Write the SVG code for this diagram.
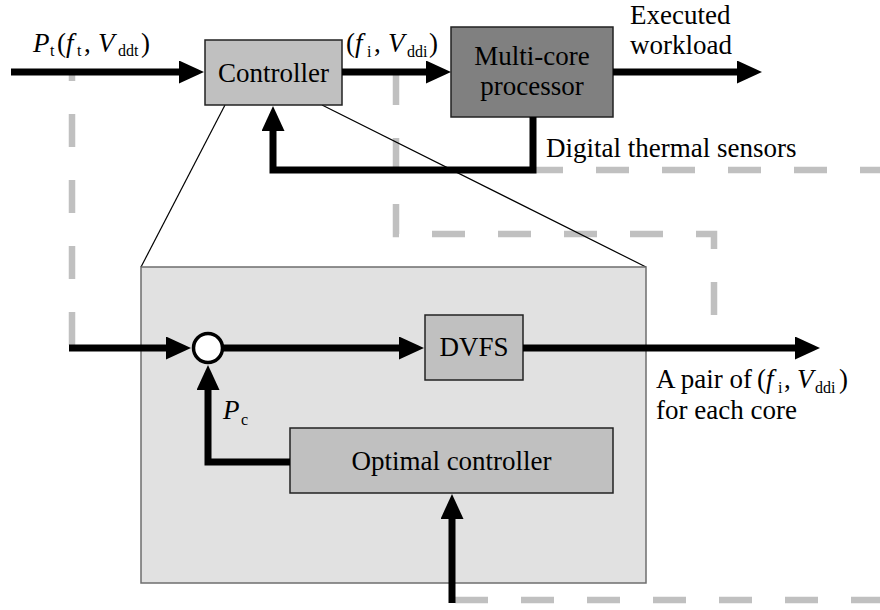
<svg xmlns="http://www.w3.org/2000/svg" width="880" height="610" viewBox="0 0 880 610" font-family="'Liberation Serif', 'Times New Roman', serif">
  <defs>
    <style>
      text, tspan { font-family: "Liberation Serif", "Times New Roman", serif; fill: #000; }
      .lbl { font-size: 27px; }
      .mid { text-anchor: middle; }
      .it { font-style: italic; }
      .sub { font-size: 16px; }
      .block { fill: #c0c0c0; stroke: #222; stroke-width: 1.5; }
      .dark { fill: #808080; stroke: #222; stroke-width: 1.5; }
      .outer { fill: #e1e1e1; stroke: #6e6e6e; stroke-width: 1.5; }
      .wire { fill: none; stroke: #000; stroke-width: 7; stroke-linejoin: miter; }
      .dash { fill: none; stroke: #c0c0c0; stroke-width: 6.5; stroke-dasharray: 33 33; stroke-linejoin: miter; }
      .zoom { fill: none; stroke: #000; stroke-width: 1.2; }
    </style>
    <marker id="head" markerUnits="userSpaceOnUse" markerWidth="26" markerHeight="24" refX="1" refY="11.5" orient="auto">
      <path d="M0,0 L25,11.5 L0,23 Z" fill="#000"/>
    </marker>
  </defs>

  <!-- grey dashed boundaries -->
  <g id="boundaries">
    <path class="dash" d="M72,72 V348" stroke-dashoffset="24"/>
    <path class="dash" d="M396,72 V234 H714 V348"/>
    <path class="dash" d="M530,170 H880"/>
    <path class="dash" d="M455,600 H880"/>
  </g>

  <!-- magnification lines from the controller to the detail view -->
  <g id="zoom-lines">
    <path class="zoom" d="M225,105 L141,267"/>
    <path class="zoom" d="M322,105 L646,267"/>
  </g>

  <!-- detail view of the controller -->
  <g id="detail">
    <rect class="outer" x="141" y="267" width="505" height="316"/>
  </g>

  <g id="controller">
    <rect class="block" x="205" y="40" width="137" height="65"/>
    <text class="lbl mid" x="273.5" y="82">Controller</text>
  </g>

  <g id="processor">
    <rect class="dark" x="451" y="27" width="162" height="90"/>
    <text class="lbl mid" x="532" y="65">Multi-core</text>
    <text class="lbl mid" x="532" y="95">processor</text>
  </g>

  <g id="sum">
    <circle cx="208" cy="348" r="14.5" fill="#fff" stroke="#000" stroke-width="3.5"/>
  </g>

  <g id="dvfs">
    <rect class="block" x="425" y="315" width="98" height="65"/>
    <text class="lbl mid" x="474" y="356">DVFS</text>
  </g>

  <g id="optimal">
    <rect class="block" x="290" y="428" width="323" height="65"/>
    <text class="lbl mid" x="451.5" y="470">Optimal controller</text>
  </g>

  <!-- signal connectors -->
  <g id="connectors">
    <path class="wire" d="M11,72 H180" marker-end="url(#head)"/>
    <path class="wire" d="M342,72 H427" marker-end="url(#head)"/>
    <path class="wire" d="M613,72 H738" marker-end="url(#head)"/>
    <path class="wire" d="M533,117 V170 H273 V130" marker-end="url(#head)"/>
    <path class="wire" d="M69,348 H167" marker-end="url(#head)"/>
    <path class="wire" d="M222,348 H400" marker-end="url(#head)"/>
    <path class="wire" d="M523,348 H796" marker-end="url(#head)"/>
    <path class="wire" d="M290,462 H208 V389" marker-end="url(#head)"/>
    <path class="wire" d="M452,603 V518" marker-end="url(#head)"/>
  </g>

  <!-- labels -->
  <g id="labels">
    <text class="lbl" y="52"><tspan class="it" x="33">P</tspan><tspan class="sub" x="50" y="56">t</tspan><tspan x="57" y="52">(</tspan><tspan class="it" x="66">f</tspan><tspan class="sub" x="77" y="56">t</tspan><tspan x="84" y="52">,</tspan><tspan class="it" x="98">V</tspan><tspan class="sub" x="118" y="56">ddt</tspan><tspan x="141" y="52">)</tspan></text>

    <text class="lbl" y="52"><tspan x="346">(</tspan><tspan class="it" x="355">f</tspan><tspan class="sub" x="367" y="57">i</tspan><tspan x="374" y="52">,</tspan><tspan class="it" x="388">V</tspan><tspan class="sub" x="407" y="57">ddi</tspan><tspan x="429" y="52">)</tspan></text>

    <text class="lbl" x="630" y="24">Executed</text>
    <text class="lbl" x="630" y="54">workload</text>

    <text class="lbl" x="546" y="157">Digital thermal sensors</text>

    <text class="lbl" y="388"><tspan x="656">A pair of</tspan><tspan x="757">(</tspan><tspan class="it" x="766">f</tspan><tspan class="sub" x="778" y="393">i</tspan><tspan x="784" y="388">,</tspan><tspan class="it" x="797">V</tspan><tspan class="sub" x="815" y="393">ddi</tspan><tspan x="839" y="388">)</tspan></text>
    <text class="lbl" x="656" y="419">for each core</text>

    <text class="lbl" y="419"><tspan class="it" x="223">P</tspan><tspan class="sub" x="241" y="425">c</tspan></text>
  </g>
</svg>
